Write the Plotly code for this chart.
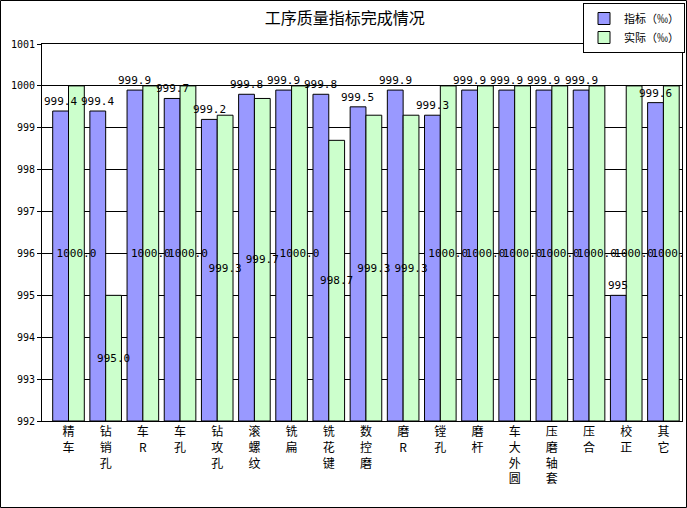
import plotly.graph_objects as go

categories = ["精车", "钻销孔", "车R", "车孔", "钻攻孔", "滚螺纹", "铣扁", "铣花键", "数控磨",
              "磨R", "镗孔", "磨杆", "车大外圆", "压磨轴套", "压合", "校正", "其它"]
target = [999.4, 999.4, 999.9, 999.7, 999.2, 999.8, 999.9, 999.8, 999.5,
          999.9, 999.3, 999.9, 999.9, 999.9, 999.9, 995.0, 999.6]
target_text = ["999.4", "999.4", "999.9", "999.7", "999.2", "999.8", "999.9", "999.8", "999.5",
               "999.9", "999.3", "999.9", "999.9", "999.9", "999.9", "995", "999.6"]
actual = [1000.0, 995.0, 1000.0, 1000.0, 999.3, 999.7, 1000.0, 998.7, 999.3,
          999.3, 1000.0, 1000.0, 1000.0, 1000.0, 1000.0, 1000.0, 1000.0]
y_min, y_max = 992, 1001

# stack characters vertically like the original axis
tick_text = ["<br>".join(list(c)) for c in categories]

W, H = 687, 508
ml, mr, mt, mb = 42, 5, 44, 87
pw, ph = W - ml - mr, H - mt - mb
bargap = 0.15
bar_px = pw / len(categories) * (1 - bargap) / 2

font = "Noto Sans CJK SC"
mono = "DejaVu Sans Mono"

fig = go.Figure()
fig.add_trace(go.Bar(
    x=categories, y=[v - y_min for v in target], base=y_min,
    name="指标（‰）", marker=dict(color="#9999FF", line=dict(color="black", width=1)),
))
fig.add_trace(go.Bar(
    x=categories, y=[v - y_min for v in actual], base=y_min,
    name="实际（‰）", marker=dict(color="#CCFFCC", line=dict(color="black", width=1)),
    text=[f"{v:.1f}" for v in actual], textposition="inside", insidetextanchor="middle",
    textangle=0, constraintext="none", textfont=dict(family=mono, size=11, color="black"),
))

# labels above the target bars, drawn on top of everything
for c, v, t in zip(categories, target, target_text):
    fig.add_annotation(x=c, y=v, text=t, showarrow=False, yanchor="bottom",
                       xshift=-bar_px / 2, yshift=1,
                       font=dict(family=mono, size=11, color="black"))

fig.update_layout(
    width=W, height=H,
    margin=dict(l=ml, r=mr, t=mt, b=mb, autoexpand=False),
    paper_bgcolor="white", plot_bgcolor="white",
    barmode="group", bargap=bargap, bargroupgap=0,
    font=dict(family=font, size=11, color="black"),
    title=dict(text="工序质量指标完成情况", x=0.502, xanchor="center", y=1 - 18 / H,
               yanchor="middle", font=dict(size=16, color="black")),
    legend=dict(xref="container", yref="container", x=685 / W, y=1 - 3 / H,
                xanchor="right", yanchor="top",
                bordercolor="black", borderwidth=1, bgcolor="white",
                font=dict(size=11), itemwidth=30, tracegroupgap=0),
    showlegend=True,
)
fig.update_yaxes(range=[y_min, y_max], dtick=1, showgrid=True, gridcolor="black",
                 gridwidth=1, showline=True, linecolor="black", mirror=True,
                 ticks="outside", ticklen=4, tickcolor="black", zeroline=False,
                 automargin=False, tickfont=dict(family=mono, size=10))
fig.update_xaxes(tickmode="array", tickvals=categories, ticktext=tick_text,
                 showline=True, linecolor="black", mirror=True, ticks="",
                 tickangle=0, automargin=False, tickfont=dict(size=12))

# outer frame around the whole picture
fig.add_shape(type="rect", xref="paper", yref="paper",
              x0=-(ml - 0.5) / pw, x1=1 + (mr - 0.5) / pw,
              y0=-(mb - 0.5) / ph, y1=1 + (mt - 0.5) / ph,
              line=dict(color="black", width=1), layer="above")

# page body has a default 8px margin; drop it so the figure fills the window
fig.write_html("out.html", config={"displayModeBar": False},
               post_script="document.body.style.margin='0';")
